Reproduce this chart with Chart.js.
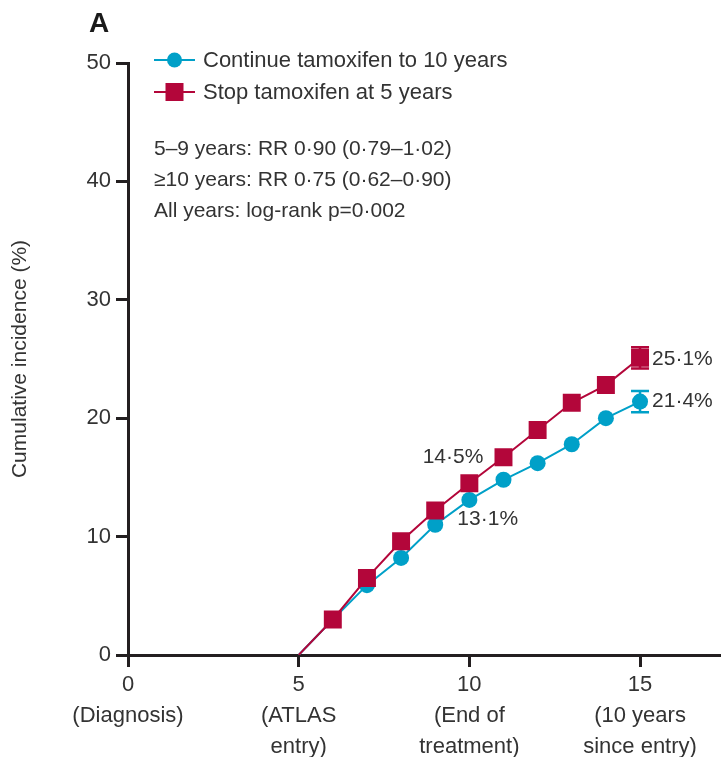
<!DOCTYPE html>
<html>
<head>
<meta charset="utf-8">
<script src="https://cdn.jsdelivr.net/npm/chart.js@4.4.0/dist/chart.umd.min.js"></script>
<style>
  html, body { margin: 0; padding: 0; background: #ffffff; }
  #wrap { width: 721px; height: 757px; }
</style>
</head>
<body>
<div id="wrap"><canvas id="chart" width="721" height="757"></canvas></div>
<script>
// Years since diagnosis at which cumulative incidence was estimated
const years = [5, 6, 7, 8, 9, 10, 11, 12, 13, 14, 15];
// Cumulative incidence (%) per arm
const continueTamoxifen = [0, 3.0, 5.9, 8.2, 11.0, 13.1, 14.8, 16.2, 17.8, 20.0, 21.4];
const stopTamoxifen     = [0, 3.0, 6.5, 9.6, 12.2, 14.5, 16.7, 19.0, 21.3, 22.8, 25.1];
// Interval around the year-15 estimates
const continueInterval15 = [20.5, 22.3];
const stopInterval15     = [24.2, 26.0];

const seriesNames = ['Continue tamoxifen to 10 years', 'Stop tamoxifen at 5 years'];
const xTickValues = [0, 5, 10, 15];
const xTickLabels = [
  ['0', '(Diagnosis)'],
  ['5', '(ATLAS', 'entry)'],
  ['10', '(End of', 'treatment)'],
  ['15', '(10 years', 'since entry)']
];
const statLines = [
  '5–9 years: RR 0·90 (0·79–1·02)',
  '≥10 years: RR 0·75 (0·62–0·90)',
  'All years: log-rank p=0·002'
];
const panelLetter = 'A';

const BLUE = '#00a0c8';
const RED = '#b3063a';
const AXIS = '#231f20';
const TEXT = '#333333';
const FONT = '"Liberation Sans", Arial, sans-serif';

const fmt = v => v.toFixed(1).replace('.', '·') + '%';

// Which points carry a printed value, and where the text sits relative to the marker
const valueLabels = [
  { ds: 1, idx: 10, dx: 12, dy: 1, align: 'left' },
  { ds: 0, idx: 10, dx: 12, dy: 0, align: 'left' },
  { ds: 1, idx: 5, dx: 14, dy: -26, align: 'right' },
  { ds: 0, idx: 5, dx: -12, dy: 19, align: 'left' }
];

const intervalPlugin = {
  id: 'intervals',
  beforeDatasetsDraw(chart) {
    const { ctx, scales: { x, y } } = chart;
    const bars = [
      { v: years[10], lo: continueInterval15[0], hi: continueInterval15[1], c: BLUE },
      { v: years[10], lo: stopInterval15[0], hi: stopInterval15[1], c: RED }
    ];
    ctx.save();
    ctx.lineWidth = 2.5;
    bars.forEach(b => {
      const px = x.getPixelForValue(b.v);
      const y1 = y.getPixelForValue(b.lo), y2 = y.getPixelForValue(b.hi);
      ctx.strokeStyle = b.c;
      ctx.beginPath();
      ctx.moveTo(px, y1); ctx.lineTo(px, y2);
      ctx.moveTo(px - 9, y1); ctx.lineTo(px + 9, y1);
      ctx.moveTo(px - 9, y2); ctx.lineTo(px + 9, y2);
      ctx.stroke();
    });
    ctx.restore();
  }
};

const annotationPlugin = {
  id: 'annotations',
  afterDraw(chart) {
    const { ctx, chartArea: ca } = chart;
    ctx.save();

    // Time axis runs on to the right edge of the panel
    ctx.strokeStyle = AXIS;
    ctx.lineWidth = 3;
    const by = Math.round(ca.bottom) + 0.5;
    ctx.beginPath(); ctx.moveTo(ca.right - 2, by); ctx.lineTo(chart.width, by); ctx.stroke();

    // Panel letter
    ctx.fillStyle = '#1a1a1a';
    ctx.font = 'bold 28px ' + FONT;
    ctx.textAlign = 'left';
    ctx.textBaseline = 'middle';
    ctx.fillText(panelLetter, 89, 24);

    // Legend: line with marker, then the arm name
    const legendRows = [
      { y: 60, color: BLUE, shape: 'circle', text: seriesNames[0] },
      { y: 92, color: RED, shape: 'rect', text: seriesNames[1] }
    ];
    legendRows.forEach(r => {
      const x0 = ca.left + 26, x1 = ca.left + 67, xm = (x0 + x1) / 2;
      ctx.strokeStyle = r.color;
      ctx.lineWidth = 2;
      ctx.beginPath(); ctx.moveTo(x0, r.y); ctx.lineTo(x1, r.y); ctx.stroke();
      ctx.fillStyle = r.color;
      if (r.shape === 'circle') {
        ctx.beginPath(); ctx.arc(xm, r.y, 7.5, 0, Math.PI * 2); ctx.fill();
      } else {
        ctx.fillRect(xm - 9, r.y - 9, 18, 18);
      }
      ctx.fillStyle = TEXT;
      ctx.font = '22px ' + FONT;
      ctx.textAlign = 'left';
      ctx.textBaseline = 'middle';
      ctx.fillText(r.text, ca.left + 75, r.y + 1);
    });

    // Summary statistics
    ctx.fillStyle = TEXT;
    ctx.font = '21px ' + FONT;
    statLines.forEach((t, i) => ctx.fillText(t, ca.left + 26, 149 + i * 31));

    // Printed values next to selected markers
    ctx.font = '21px ' + FONT;
    valueLabels.forEach(l => {
      const el = chart.getDatasetMeta(l.ds).data[l.idx];
      const val = chart.data.datasets[l.ds].data[l.idx].y;
      ctx.textAlign = l.align;
      ctx.fillText(fmt(val), el.x + l.dx, el.y + l.dy);
    });
    ctx.restore();
  }
};

const toPoints = vals => years.map((x, i) => ({ x, y: vals[i] }));
const markerRadius = r => ctx => (ctx.dataIndex === 0 ? 0 : r);

new Chart(document.getElementById('chart'), {
  type: 'line',
  data: {
    datasets: [
      {
        label: seriesNames[0],
        data: toPoints(continueTamoxifen),
        borderColor: BLUE,
        backgroundColor: BLUE,
        borderWidth: 2,
        pointStyle: 'circle',
        pointRadius: markerRadius(8),
        pointBorderWidth: 0,
        tension: 0,
        order: 1
      },
      {
        label: seriesNames[1],
        data: toPoints(stopTamoxifen),
        borderColor: RED,
        backgroundColor: RED,
        borderWidth: 2,
        pointStyle: 'rect',
        pointRadius: markerRadius(12.7),
        pointBorderWidth: 0,
        tension: 0,
        order: 0
      }
    ]
  },
  options: {
    responsive: false,
    animation: false,
    devicePixelRatio: 1,
    layout: { padding: { top: 63, right: 0, bottom: 0, left: 0 } },
    plugins: { legend: { display: false }, tooltip: { enabled: false } },
    scales: {
      x: {
        type: 'linear',
        min: 0,
        max: 17,
        afterBuildTicks: s => { s.ticks = xTickValues.map(v => ({ value: v })); },
        afterFit: s => { s.height = 102; },
        border: { display: true, color: AXIS, width: 3 },
        grid: { drawOnChartArea: false, drawTicks: true, tickLength: 12, tickWidth: 3, tickColor: AXIS, color: AXIS },
        ticks: {
          padding: 2,
          color: TEXT,
          font: { family: FONT, size: 22, lineHeight: 1.41 },
          maxRotation: 0,
          autoSkip: false,
          callback: v => xTickLabels[xTickValues.indexOf(v)]
        }
      },
      y: {
        min: 0,
        max: 50,
        afterFit: s => { s.width = 128; },
        border: { display: true, color: AXIS, width: 3 },
        grid: { drawOnChartArea: false, drawTicks: true, tickLength: 12, tickWidth: 3, tickColor: AXIS, color: AXIS },
        ticks: { stepSize: 10, padding: 5, color: TEXT, font: { family: FONT, size: 22 } },
        title: {
          display: true,
          text: 'Cumulative incidence (%)',
          color: TEXT,
          font: { family: FONT, size: 21 },
          padding: { top: 8, bottom: 0 }
        }
      }
    }
  },
  plugins: [intervalPlugin, annotationPlugin]
});
</script>
</body>
</html>
